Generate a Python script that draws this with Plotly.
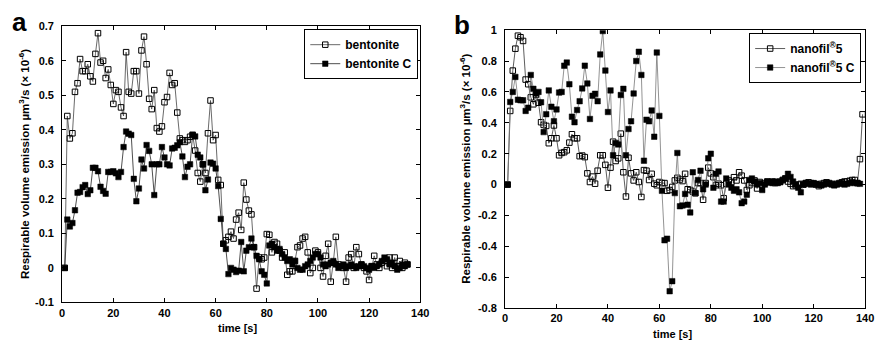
import plotly.graph_objects as go

# ---------------- data ----------------
t_a = list(range(1, 136))
bentonite = [
    0.0, 0.44, 0.375, 0.39, 0.51, 0.535, 0.605, 0.57, 0.57, 0.59,
    0.555, 0.54, 0.62, 0.68, 0.595, 0.60, 0.55, 0.575, 0.53, 0.475,
    0.515, 0.51, 0.465, 0.44, 0.625, 0.51, 0.505, 0.57, 0.57, 0.505,
    0.63, 0.67, 0.59, 0.49, 0.46, 0.515, 0.405, 0.395, 0.41, 0.48,
    0.495, 0.565, 0.53, 0.535, 0.45, 0.375, 0.37, 0.365, 0.37, 0.38,
    0.385, 0.34, 0.275, 0.25, 0.30, 0.275, 0.39, 0.485, 0.37, 0.385,
    0.255, 0.24, 0.07, 0.08, 0.09, 0.105, 0.085, 0.14, 0.16, 0.11,
    0.247, 0.198, 0.166, 0.155, 0.06, -0.06, 0.03, 0.025, 0.03, 0.098,
    0.096, 0.045, 0.075, 0.07, 0.05, 0.03, 0.045, -0.02, -0.01, -0.01,
    0.02, 0.06, 0.065, 0.085, 0.09, 0.045, -0.015, 0.0, 0.05, 0.045,
    0.0, -0.025, 0.035, 0.07, -0.04, 0.015, 0.09, 0.01, 0.005, 0.0,
    -0.04, 0.03, 0.04, 0.0, 0.06, 0.04, 0.01, 0.0, -0.01, -0.035,
    0.005, 0.035, 0.01, 0.0, 0.015, 0.02, 0.005, 0.03, 0.0, 0.03,
    0.005, 0.02, 0.0, 0.015, 0.01,
]
bentonite_c = [
    0.0, 0.14, 0.12, 0.13, 0.167, 0.218, 0.22, 0.234, 0.24, 0.214,
    0.225, 0.29, 0.29, 0.28, 0.235, 0.223, 0.215, 0.278, 0.278, 0.28,
    0.274, 0.263, 0.278, 0.35, 0.395, 0.389, 0.385, 0.258, 0.193, 0.23,
    0.314, 0.288, 0.356, 0.339, 0.30, 0.211, 0.30, 0.30, 0.35, 0.32,
    0.30, 0.297, 0.346, 0.348, 0.355, 0.364, 0.323, 0.263, 0.293, 0.30,
    0.386, 0.381, 0.328, 0.32, 0.30, 0.225, 0.256, 0.305, 0.302, 0.288,
    0.237, 0.142, 0.07, 0.055, -0.018, 0.0, -0.005, -0.012, -0.008, 0.075,
    -0.01, 0.05, 0.06, 0.085, 0.06, 0.035, 0.025, -0.01, -0.02, -0.045,
    0.065, 0.07, 0.06, 0.05, 0.055, 0.04, 0.03, 0.02, 0.025, 0.01,
    0.02, 0.0, -0.005, -0.005, 0.005, 0.01, 0.02, 0.03, 0.04, 0.04,
    0.03, 0.01, 0.005, 0.01, 0.015, 0.02, 0.01, 0.0, 0.005, 0.01,
    0.0, 0.005, 0.01, 0.005, 0.0, 0.005, 0.01, 0.005, 0.0, -0.005,
    0.005, 0.0, 0.005, 0.01, 0.02, 0.03, 0.025, 0.01, 0.015, 0.005,
    -0.005, 0.0, 0.01, 0.005, 0.01,
]

t_b = list(range(1, 140))
nanofil5 = [
    0.0, 0.477, 0.738, 0.88, 0.964, 0.954, 0.93, 0.68, 0.65, 0.565,
    0.52, 0.58, 0.53, 0.404, 0.387, 0.38, 0.268, 0.30, 0.383, 0.30,
    0.19, 0.205, 0.21, 0.222, 0.272, 0.326, 0.30, 0.30, 0.184, 0.188,
    0.178, 0.073, 0.017, 0.052, 0.006, 0.09, 0.19, 0.19, 0.128, -0.02,
    0.11, 0.278, 0.153, 0.17, 0.33, 0.08, -0.077, 0.174, 0.073, 0.027,
    0.08, 0.017, -0.08, 0.094, 0.09, 0.03, 0.07, 0.006, -0.004, 0.017,
    0.01, 0.01, -0.04, -0.035, -0.015, 0.027, 0.044, 0.033, 0.023, 0.07,
    -0.03, -0.035, -0.045, -0.056, 0.01, 0.01, -0.098, 0.01, 0.11, 0.073,
    0.048, -0.004, 0.006, -0.004, -0.088, 0.006, 0.027, 0.017, 0.048, 0.027,
    0.08, 0.058, 0.027, -0.035, -0.004, 0.01, 0.027, -0.025, 0.017, 0.0,
    0.01, 0.02, 0.015, 0.02, 0.01, 0.015, 0.02, 0.03, 0.04, 0.02,
    0.005, -0.01, -0.005, 0.0, 0.005, 0.0, 0.01, 0.015, 0.01, 0.005,
    0.0, -0.01, 0.005, 0.01, 0.015, 0.01, 0.005, 0.0, 0.005, 0.01,
    0.015, 0.02, 0.02, 0.025, 0.03, 0.03, 0.01, 0.165, 0.455,
]
t_bc = list(range(1, 139))
nanofil5_c = [
    0.0, 0.535, 0.60, 0.697, 0.55, 0.546, 0.546, 0.477, 0.498, 0.71,
    0.62, 0.59, 0.60, 0.533, 0.34, 0.456, 0.61, 0.504, 0.41, 0.487,
    0.596, 0.60, 0.77, 0.79, 0.65, 0.44, 0.404, 0.483, 0.54, 0.623,
    0.77, 0.655, 0.425, 0.575, 0.588, 0.54, 0.843, 0.994, 0.738, 0.47,
    0.61, 0.19, 0.27, 0.26, 0.58, 0.62, 0.19, 0.36, 0.41, 0.59,
    0.80, 0.86, 0.71, 0.155, 0.42, 0.41, 0.48, 0.31, 0.855, 0.445,
    -0.04, -0.36, -0.35, -0.69, -0.625, -0.055, 0.205, -0.14, -0.135, -0.06,
    -0.13, -0.18, 0.08, -0.055, 0.03, 0.09, -0.03, 0.0, 0.17, 0.20,
    -0.02, 0.07, 0.085, -0.11, -0.11, 0.04, 0.0, -0.02, -0.04, -0.03,
    -0.05, -0.12, -0.11, -0.065, 0.03, 0.04, 0.02, 0.0, 0.01, -0.035,
    0.0, 0.02, 0.015, 0.01, 0.02, 0.01, 0.015, 0.03, 0.04, 0.07,
    0.05, 0.02, 0.0, -0.02, -0.05, 0.0, 0.01, 0.005, 0.0, 0.01,
    0.005, 0.0, -0.005, 0.0, 0.01, 0.005, 0.0, -0.005, 0.0, 0.005,
    0.01, 0.0, 0.005, 0.01, 0.015, 0.01, 0.01, 0.005,
]

x_ticks = [0, 20, 40, 60, 80, 100, 120, 140]
x_ticktext = ["0", "20", "40", "60", "80", "100", "120", "140"]
ya_ticks = [-0.1, 0, 0.1, 0.2, 0.3, 0.4, 0.5, 0.6, 0.7]
ya_ticktext = ["-0.1", "0", "0.1", "0.2", "0.3", "0.4", "0.5", "0.6", "0.7"]
yb_ticks = [-0.8, -0.6, -0.4, -0.2, 0, 0.2, 0.4, 0.6, 0.8, 1]
yb_ticktext = ["-0.8", "-0.6", "-0.4", "-0.2", "0", "0.2", "0.4", "0.6", "0.8", "1"]

ytitle = "Respirable volume emission \u00b5m<sup>3</sup>/s (\u00d7 10<sup>-6</sup>)"

# ---------------- figure ----------------
W, H = 882, 348
FONT = "Liberation Sans, Arial, sans-serif"

fig = go.Figure()

open_marker = dict(symbol="square-open", size=5.5, color="black", line=dict(width=1, color="black"))
fill_marker = dict(symbol="square", size=5.5, color="black", line=dict(width=0.5, color="black"))

fig.add_trace(go.Scatter(x=t_a, y=bentonite, mode="lines+markers", name="bentonite",
                         line=dict(color="#444444", width=0.8), marker=open_marker,
                         xaxis="x", yaxis="y", legend="legend"))
fig.add_trace(go.Scatter(x=t_a, y=bentonite_c, mode="lines+markers", name="bentonite C",
                         line=dict(color="#222222", width=0.8), marker=fill_marker,
                         xaxis="x", yaxis="y", legend="legend"))
fig.add_trace(go.Scatter(x=t_b, y=nanofil5, mode="lines+markers", name="nanofil<sup>\u00ae</sup>5",
                         line=dict(color="#333333", width=0.8), marker=open_marker,
                         xaxis="x2", yaxis="y2", legend="legend2"))
fig.add_trace(go.Scatter(x=t_bc, y=nanofil5_c, mode="lines+markers", name="nanofil<sup>\u00ae</sup>5 C",
                         line=dict(color="#777777", width=0.8), marker=fill_marker,
                         xaxis="x2", yaxis="y2", legend="legend2"))

axis_common = dict(showline=True, linecolor="black", linewidth=1, mirror="ticks",
                   ticks="inside", ticklen=4, tickcolor="black", tickwidth=1,
                   showgrid=False, zeroline=False,
                   tickfont=dict(family=FONT, size=11, color="black", weight="bold"))

def px_x(p):
    return p / W

def px_y(p):
    return 1 - p / H

fig.update_layout(
    width=W, height=H,
    margin=dict(l=0, r=0, t=0, b=0),
    paper_bgcolor="white", plot_bgcolor="white",
    font=dict(family=FONT, color="black"),
    xaxis=dict(domain=[px_x(60), px_x(423)], range=[0, 140], anchor="y",
               tickvals=x_ticks, ticktext=x_ticktext, **axis_common),
    yaxis=dict(domain=[px_y(307), px_y(21)], range=[-0.1, 0.7], anchor="x",
               tickvals=ya_ticks, ticktext=ya_ticktext, ticklabelstandoff=5, **axis_common),
    xaxis2=dict(domain=[px_x(509), px_x(874)], range=[0, 140], anchor="y2",
                tickvals=x_ticks, ticktext=x_ticktext, **axis_common),
    yaxis2=dict(domain=[px_y(313), px_y(25)], range=[-0.8, 1], anchor="x2",
                tickvals=yb_ticks, ticktext=yb_ticktext, ticklabelstandoff=5, **axis_common),
    legend=dict(x=px_x(421), y=px_y(24), xanchor="right", yanchor="top",
                bgcolor="white", bordercolor="black", borderwidth=1,
                font=dict(family=FONT, size=12, color="black", weight="bold"),
                itemwidth=30, tracegroupgap=0),
    legend2=dict(x=px_x(870), y=px_y(28), xanchor="right", yanchor="top",
                 bgcolor="white", bordercolor="black", borderwidth=1,
                 font=dict(family=FONT, size=12, color="black", weight="bold"),
                 itemwidth=30, tracegroupgap=0),
    showlegend=True,
)

def ann(text, cx, cy, size, angle=0, weight="bold"):
    return dict(text=text, x=px_x(cx), y=px_y(cy), xref="paper", yref="paper",
                xanchor="center", yanchor="middle", textangle=angle, showarrow=False,
                font=dict(family=FONT, size=size, color="black", weight=weight))

annotations = [
    ann("a", 17, 17, 26),
    ann("b", 465, 20, 26),
    ann(ytitle, 22, 164, 11.5, angle=-90),
    ann(ytitle, 469, 169, 11.5, angle=-90),
    ann("time [s]", 238, 334, 11),
    ann("time [s]", 679, 340, 11),
]
fig.update_layout(annotations=annotations)

post = (
    "var de=document.documentElement, b=document.body;"
    "de.style.margin='0';de.style.padding='0';de.style.overflow='hidden';"
    "b.style.margin='0';b.style.padding='0';b.style.overflow='hidden';"
    "var g=document.getElementsByClassName('plotly-graph-div')[0];"
    "if(g){g.style.position='fixed';g.style.left='0px';g.style.top='0px';}"
)

fig.write_html("out.html", config={"displayModeBar": False}, post_script=post)
